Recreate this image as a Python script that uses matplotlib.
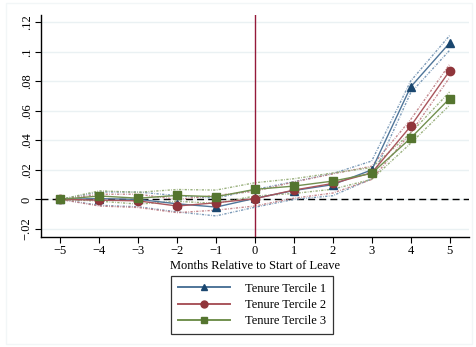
import matplotlib
matplotlib.use("Agg")
import matplotlib.pyplot as plt
from matplotlib.patches import Rectangle
import numpy as np

# Event time (months relative to start of leave)
months = [-5, -4, -3, -2, -1, 0, 1, 2, 3, 4, 5]

# Point estimates by tenure tercile
tercile1 = [0.0, 0.0005, 0.0, -0.003, -0.0052, 0.0007, 0.006, 0.010, 0.020, 0.0762, 0.106]
tercile2 = [0.0, -0.0005, -0.001, -0.0045, -0.0023, 0.0005, 0.0063, 0.0108, 0.018, 0.0496, 0.087]
tercile3 = [0.0, 0.0023, 0.0008, 0.0027, 0.0018, 0.0068, 0.009, 0.0124, 0.0176, 0.0415, 0.0683]

# Half-widths of the 95% confidence intervals
ci1 = [0.0, 0.0045, 0.005, 0.0055, 0.006, 0.006, 0.006, 0.0075, 0.006, 0.004, 0.005]
ci2 = [0.0, 0.004, 0.0045, 0.0045, 0.005, 0.005, 0.0055, 0.0065, 0.0045, 0.0045, 0.0045]
ci3 = [0.0, 0.0035, 0.004, 0.004, 0.0045, 0.0045, 0.005, 0.0055, 0.004, 0.0035, 0.0045]

labels = ["Tenure Tercile 1", "Tenure Tercile 2", "Tenure Tercile 3"]
yticks = [-0.02, 0, 0.02, 0.04, 0.06, 0.08, 0.1, 0.12]
ytick_labels = ["\u2212.02", "0", ".02", ".04", ".06", ".08", ".1", ".12"]
xlabel = "Months Relative to Start of Leave"

colors = ["#1a476f", "#90353b", "#55752f"]
line_colors = ["#4f7599", "#a9555c", "#72904f"]
band_colors = ["#6d8fb0", "#be7a80", "#8fa86f"]
markers = ["^", "o", "s"]

plt.rcParams["font.family"] = ["Liberation Serif", "DejaVu Serif"]

fig = plt.figure(figsize=(4.76, 3.47), dpi=100)
fig.patch.set_facecolor("white")
fig.patches.append(Rectangle((6 / 476, 3 / 347), 466 / 476, 341 / 347,
                             transform=fig.transFigure, fill=False,
                             edgecolor="#f2f6f7", linewidth=1.0))

ax = fig.add_axes([41 / 476, 1 - 237 / 347, (469 - 41) / 476, (237 - 15) / 347])
ax.set_xlim(-5.5, 5.5)
ax.set_ylim(-0.0255, 0.125)

for y in yticks:
    ax.axhline(y, color="#eaf1f3", linewidth=1.0, zorder=0)
ax.axhline(0, color="black", linewidth=1.0, linestyle=(0, (5, 3)), zorder=1)
ax.axvline(0, color="#951a3a", linewidth=1.0, zorder=1)

x = np.array(months)
series = [(tercile1, ci1), (tercile2, ci2), (tercile3, ci3)]
for i, (vals, ci) in enumerate(series):
    v = np.array(vals)
    c = np.array(ci)
    for band in (v + c, v - c):
        ax.plot(x, band, color=band_colors[i], linewidth=1.0,
                linestyle=(0, (1.6, 1.0, 0.5, 1.0)), alpha=0.9, zorder=2)

handles = []
for i, (vals, ci) in enumerate(series):
    ax.plot(x, vals, color=line_colors[i], linewidth=1.0, zorder=3)
    ax.plot(x, vals, linestyle="none", marker=markers[i], markersize=6,
            color=colors[i], zorder=4)
    h, = plt.plot([], [], color=line_colors[i], linewidth=1.4,
                  marker=markers[i], markersize=5, markerfacecolor=colors[i],
                  markeredgecolor=colors[i])
    handles.append(h)

ax.set_xticks(months)
ax.set_xticklabels([str(m).replace("-", "\u2212") for m in months], fontsize=9)
ax.set_yticks(yticks)
ax.set_yticklabels(ytick_labels, fontsize=9, rotation=90, va="center")
ax.tick_params(axis="both", length=4, width=0.8, color="black", pad=2)
ax.set_xlabel(xlabel, fontsize=9, labelpad=2)

for side in ("top", "right"):
    ax.spines[side].set_visible(False)
for side in ("left", "bottom"):
    ax.spines[side].set_linewidth(1.0)

leg = fig.legend(handles, labels, loc="center",
                 bbox_to_anchor=(252 / 476, 1 - 305 / 347),
                 fontsize=9, frameon=True, fancybox=False, edgecolor="black",
                 handlelength=4.2, handletextpad=1.2, labelspacing=0.35,
                 borderpad=0.5)
leg.get_frame().set_linewidth(0.9)

fig.savefig("out.png", dpi=100, facecolor="white")
